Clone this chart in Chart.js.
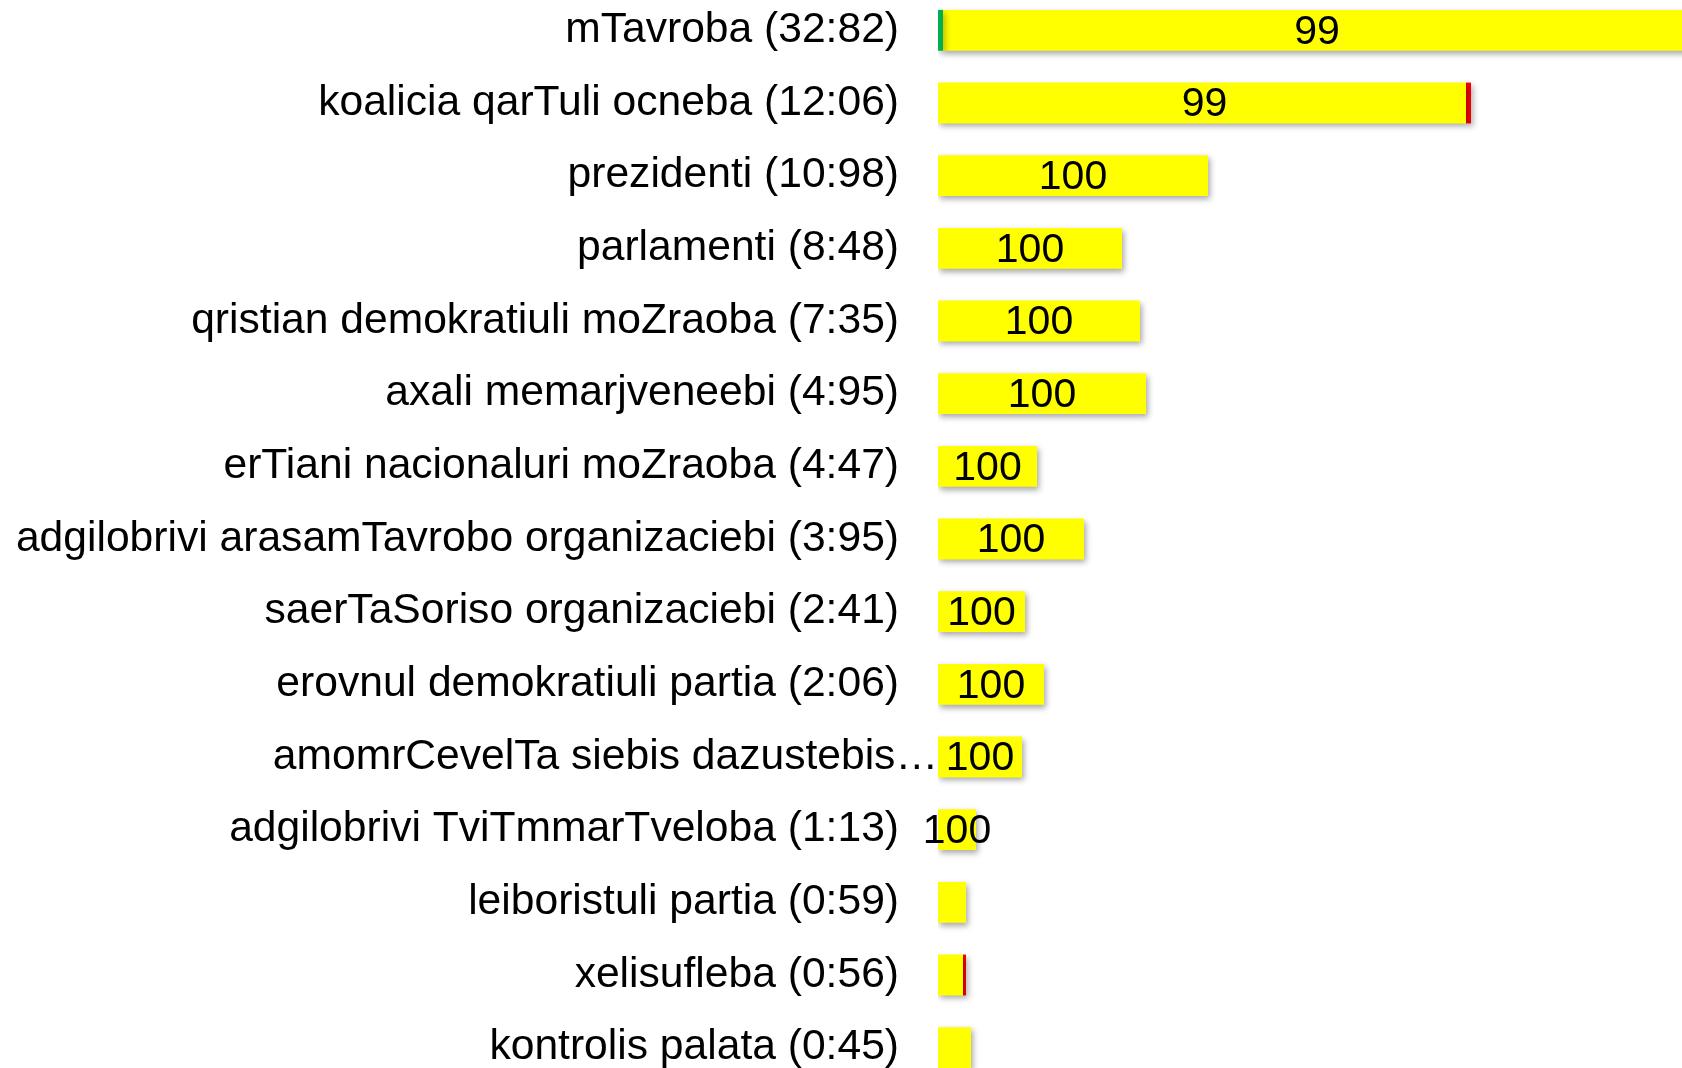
<!DOCTYPE html>
<html>
<head>
<meta charset="utf-8">
<script src="https://cdn.jsdelivr.net/npm/chart.js@4"></script>
<style>
  html, body { margin: 0; padding: 0; background: #fff; overflow: hidden; width: 1682px; height: 1068px; }
  #wrap { position: absolute; left: 0; top: -6px; width: 1682px; height: 1090px; }
</style>
</head>
<body>
<div id="wrap"><canvas id="myChart" width="1682" height="1090"></canvas></div>
<script>
// categorias (con el tiempo entre paréntesis)
var categorias = [
    "mTavroba (32:82)",
    "koalicia qarTuli ocneba (12:06)",
    "prezidenti (10:98)",
    "parlamenti (8:48)",
    "qristian demokratiuli moZraoba (7:35)",
    "axali memarjveneebi (4:95)",
    "erTiani nacionaluri moZraoba (4:47)",
    "adgilobrivi arasamTavrobo organizaciebi (3:95)",
    "saerTaSoriso organizaciebi (2:41)",
    "erovnul demokratiuli partia (2:06)",
    "amomrCevelTa siebis dazustebis\u2026",
    "adgilobrivi TviTmmarTveloba (1:13)",
    "leiboristuli partia (0:59)",
    "xelisufleba (0:56)",
    "kontrolis palata (0:45)"
];

// valores de cada serie (verde = positivo, amarillo = neutral, rojo = negativo)
var positivo = [5, 0, 0, 0, 0, 0, 0, 0, 0, 0, 0, 0, 0, 0, 0];
var neutral  = [753, 528, 270, 184, 202, 208, 99, 146, 87, 106, 84, 38, 28, 25, 33];
var negativo = [0, 5, 0, 0, 0, 0, 0, 0, 0, 0, 0, 0, 0, 3, 0];

// etiquetas dentro de las barras (% neutral)
var etiquetas = ["99", "99", "100", "100", "100", "100", "100", "100", "100", "100", "100", "100", null, null, null];

// la etiqueta cortada que se sale hacia las barras
var indiceCortado = 10;

var fuente = '"Liberation Sans", Arial, sans-serif';

// Plugin para la sombra de las barras y las etiquetas
var sombraYEtiquetas = {
    id: 'sombraYEtiquetas',
    beforeDatasetsDraw: function(chart) {
        var ctx = chart.ctx;
        ctx.save();
        ctx.shadowColor = 'rgba(0, 0, 0, 0.35)';
        ctx.shadowBlur = 6;
        ctx.shadowOffsetX = 2;
        ctx.shadowOffsetY = 3;
    },
    afterDatasetsDraw: function(chart) {
        var ctx = chart.ctx;
        ctx.restore();
        var x = chart.scales.x;
        var y = chart.scales.y;
        ctx.save();
        ctx.fillStyle = '#000';
        ctx.textBaseline = 'middle';

        // etiqueta larga, alineada sobre el inicio de las barras
        ctx.font = '42.6px ' + fuente;
        ctx.textAlign = 'right';
        ctx.fillText(categorias[indiceCortado], y.right, y.getPixelForValue(indiceCortado));

        ctx.font = '41px ' + fuente;
        ctx.textAlign = 'center';
        for (var i = 0; i < categorias.length; i++) {
            if (!etiquetas[i]) continue;
            var total = positivo[i] + neutral[i] + negativo[i];
            var cx = (x.getPixelForValue(0) + x.getPixelForValue(total)) / 2;
            ctx.fillText(etiquetas[i], cx, y.getPixelForValue(i) + 2);
        }
        ctx.restore();
    }
};

var ctx = document.getElementById('myChart').getContext('2d');
var myChart = new Chart(ctx, {
    type: 'bar',
    data: {
        labels: categorias,
        datasets: [{
            label: 'positivo',
            data: positivo,
            backgroundColor: '#00B050'
        }, {
            label: 'neutral',
            data: neutral,
            backgroundColor: '#FFFF00'
        }, {
            label: 'negativo',
            data: negativo,
            backgroundColor: '#FF0000'
        }]
    },
    options: {
        indexAxis: 'y',
        responsive: false,
        animation: false,
        devicePixelRatio: 1,
        barPercentage: 0.5625,
        categoryPercentage: 1,
        layout: { padding: 0, autoPadding: false },
        plugins: {
            legend: { display: false },
            tooltip: { enabled: false }
        },
        scales: {
            x: {
                stacked: true,
                display: false,
                min: 0,
                max: 744
            },
            y: {
                stacked: true,
                grid: { display: false, drawTicks: false },
                border: { display: false },
                afterFit: function(scale) {
                    scale.width = 938;
                    scale.paddingTop = 0;
                    scale.paddingBottom = 0;
                },
                ticks: {
                    padding: 39,
                    color: '#000',
                    autoSkip: false,
                    font: { family: fuente, size: 42.6 },
                    callback: function(value, index) {
                        return index === indiceCortado ? '' : categorias[index];
                    }
                }
            }
        }
    },
    plugins: [sombraYEtiquetas]
});
</script>
</body>
</html>
